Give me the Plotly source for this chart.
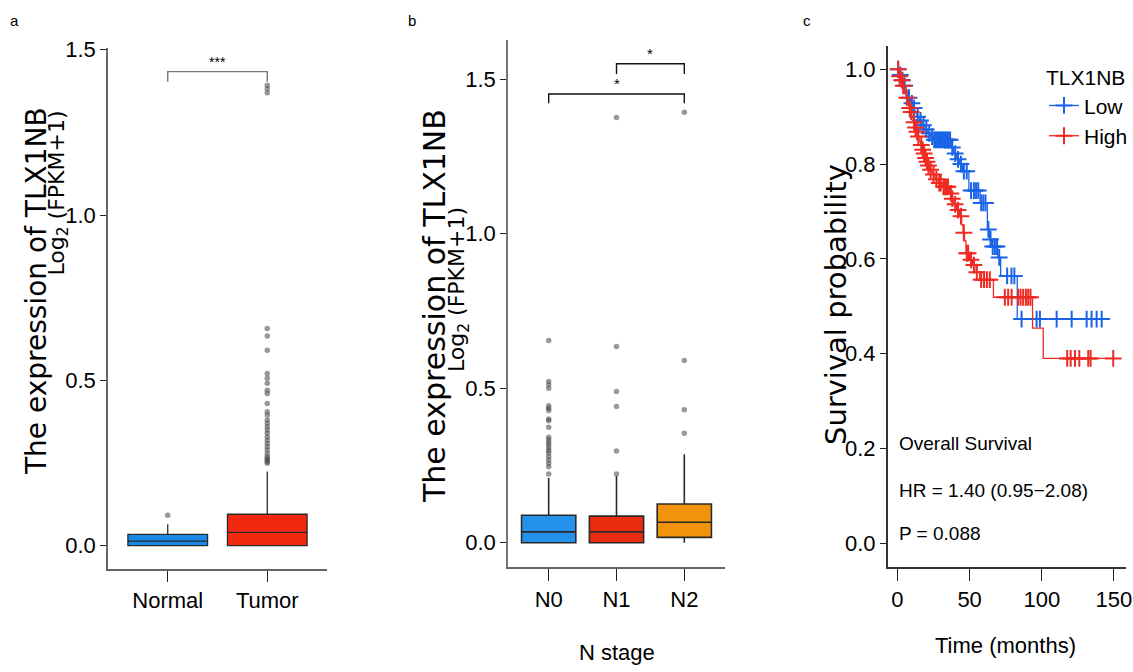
import plotly.graph_objects as go
import numpy as np

W, H = 1133, 672
def fx(p):
    return p / W
def fy(p):
    return 1 - p / H

SANS = "Liberation Sans"
WIDE = "DejaVu Sans"

# ---------------- Panel a data ----------------
a_groups = ["Normal", "Tumor"]
a_q1 = [0.0, 0.0]
a_median = [0.014, 0.040]
a_q3 = [0.034, 0.095]
a_lower = [0.0, 0.0]
a_upper = [0.065, 0.224]
a_colors = ["#1a88e6", "#f2290e"]
a_outliers = {
    "Normal": [0.092],
    "Tumor": [1.392, 1.382, 1.370, 0.657, 0.634, 0.591, 0.521, 0.506, 0.491,
              0.470, 0.460, 0.430, 0.405, 0.395, 0.380, 0.370, 0.360, 0.350,
              0.340, 0.329, 0.319, 0.309, 0.299, 0.289, 0.279, 0.269, 0.264,
              0.259, 0.254, 0.249],
}
a_yticks = [0.0, 0.5, 1.0, 1.5]
a_yticktext = ["0.0", "0.5", "1.0", "1.5"]
a_brackets = [("Normal", "Tumor", 1.4335, 1.403, "***")]

# ---------------- Panel b data ----------------
b_groups = ["N0", "N1", "N2"]
b_q1 = [0.0, 0.0, 0.017]
b_median = [0.035, 0.035, 0.066]
b_q3 = [0.089, 0.086, 0.125]
b_lower = [0.0, 0.0, 0.0]
b_upper = [0.209, 0.216, 0.286]
b_colors = ["#2492eb", "#eb2b0f", "#f1930c"]
b_outliers = {
    "N0": [0.654, 0.522, 0.511, 0.500, 0.443, 0.435, 0.428, 0.400, 0.395, 0.374,
           0.341, 0.333, 0.324, 0.316, 0.307, 0.298, 0.290, 0.279, 0.268, 0.257,
           0.246, 0.2225],
    "N1": [1.376, 0.635, 0.489, 0.441, 0.297, 0.2225],
    "N2": [1.393, 0.590, 0.430, 0.354],
}
b_yticks = [0.0, 0.5, 1.0, 1.5]
b_yticktext = ["0.0", "0.5", "1.0", "1.5"]
b_brackets = [("N0", "N2", 1.452, 1.422, "*"), ("N1", "N2", 1.550, 1.517, "*")]

# ---------------- Panel c data (Kaplan-Meier) ----------------
low_times = [0, 1.5, 3, 4.5, 6, 7.5, 9, 10.5, 12, 13.5, 15, 17, 19, 21, 23, 24.7,
             37.5, 39, 41, 43, 45, 49.5, 57.3, 62.3, 63.8, 65, 69.5, 71.5, 83, 143.5]
low_surv = [1.0, 0.988, 0.977, 0.965, 0.950, 0.940, 0.928, 0.918, 0.908, 0.900,
            0.892, 0.882, 0.873, 0.865, 0.858, 0.851, 0.835, 0.822, 0.810, 0.800,
            0.785, 0.744, 0.718, 0.662, 0.641, 0.626, 0.603, 0.564, 0.473, 0.473]
low_censor = [0.5, 2, 3.5, 5, 8, 10, 11.5, 14, 16, 18, 20, 22, 24, 25.5, 26.5, 27.5,
              28.5, 29.5, 30.5, 31.5, 32.5, 33.5, 34.5, 35.5, 36.5, 38, 40, 42, 44,
              46, 48, 51, 53, 54.5, 56, 58, 59.5, 61, 63, 64.5, 66, 67.5, 69, 70.5,
              76, 79, 81, 86, 96.4, 98.7, 110.3, 120.7, 131.1, 134.5, 138, 141.5]

high_times = [0, 1, 2, 3.5, 5, 6, 7, 8, 9, 10, 11, 12, 13, 14, 15, 16, 17, 18, 19,
              20, 21, 22, 24, 26, 28, 31, 36, 37.5, 39, 41, 43, 44.5, 45.5, 46.5,
              47.5, 50, 52, 54.5, 57, 66.5, 93.6, 101, 151]
high_surv = [1.0, 0.985, 0.977, 0.965, 0.953, 0.940, 0.930, 0.918, 0.910, 0.898,
             0.888, 0.877, 0.868, 0.858, 0.848, 0.840, 0.830, 0.822, 0.813, 0.805,
             0.797, 0.788, 0.778, 0.768, 0.760, 0.752, 0.738, 0.727, 0.715, 0.703,
             0.690, 0.672, 0.655, 0.638, 0.612, 0.598, 0.587, 0.572, 0.556, 0.519,
             0.454, 0.390, 0.390]
high_censor = [0.5, 1.5, 3, 4, 6.5, 8.5, 9.5, 11.5, 12.5, 13.5, 14.5, 16.5, 17.5,
               18.5, 19.5, 20.5, 21.5, 23, 25, 27, 29, 30, 32, 33, 34, 35, 37, 38,
               40, 42, 44, 46, 48, 49, 51, 53, 55, 58, 60, 62, 64, 74.4, 76.7, 79.1,
               83.6, 85.3, 87.1, 89, 90.6, 92.2, 117.6, 120, 123, 126, 132.2, 133.8,
               149.5]
km_names = ["Low", "High"]
km_colors = ["#1b63e6", "#ee2a22"]
c_xticks = [0, 50, 100, 150]
c_yticks = [0.0, 0.2, 0.4, 0.6, 0.8, 1.0]
c_yticktext = ["0.0", "0.2", "0.4", "0.6", "0.8", "1.0"]
c_texts = ["Overall Survival", "HR = 1.40 (0.95\u22122.08)", "P = 0.088"]


def step_value(times, surv, t):
    idx = np.searchsorted(np.array(times), t, side="right") - 1
    return surv[max(idx, 0)]


fig = go.Figure()

OUT_COLOR = "rgba(70,70,70,0.55)"
BOX_LINE = "#2a2a2a"

# ----- Panel a boxes -----
for i, g in enumerate(a_groups):
    fig.add_trace(go.Box(
        x=[g], q1=[a_q1[i]], median=[a_median[i]], q3=[a_q3[i]],
        lowerfence=[a_lower[i]], upperfence=[a_upper[i]],
        fillcolor=a_colors[i], line=dict(color=BOX_LINE, width=1.3),
        whiskerwidth=0, width=0.8, boxpoints=False, showlegend=False,
        xaxis="x", yaxis="y", hoverinfo="skip"))
    fig.add_trace(go.Scatter(
        x=[g] * len(a_outliers[g]), y=a_outliers[g], mode="markers",
        marker=dict(color=OUT_COLOR, size=5.5), showlegend=False,
        xaxis="x", yaxis="y", hoverinfo="skip"))

# ----- Panel b boxes -----
for i, g in enumerate(b_groups):
    fig.add_trace(go.Box(
        x=[g], q1=[b_q1[i]], median=[b_median[i]], q3=[b_q3[i]],
        lowerfence=[b_lower[i]], upperfence=[b_upper[i]],
        fillcolor=b_colors[i], line=dict(color=BOX_LINE, width=1.6),
        whiskerwidth=0, width=0.8, boxpoints=False, showlegend=False,
        xaxis="x2", yaxis="y2", hoverinfo="skip"))
    fig.add_trace(go.Scatter(
        x=[g] * len(b_outliers[g]), y=b_outliers[g], mode="markers",
        marker=dict(color=OUT_COLOR, size=5.5), showlegend=False,
        xaxis="x2", yaxis="y2", hoverinfo="skip"))

annotations = []

# ----- significance brackets -----
def add_brackets(brackets, groups, xa, ya, color, fsize):
    for g1, g2, top, leg, label in brackets:
        fig.add_trace(go.Scatter(
            x=[g1, g1, g2, g2], y=[leg, top, top, leg], mode="lines",
            line=dict(color=color, width=1.4), showlegend=False,
            xaxis=xa, yaxis=ya, hoverinfo="skip"))
        mid = (groups.index(g1) + groups.index(g2)) / 2
        annotations.append(dict(
            x=mid, y=top, xref=xa, yref=ya, text=label, showarrow=False,
            xanchor="center", yanchor="bottom",
            font=dict(family=SANS, size=fsize, color="black")))

add_brackets(a_brackets, a_groups, "x", "y", "#777777", 14)
add_brackets(b_brackets, b_groups, "x2", "y2", "#111111", 15)

# ----- Panel c KM curves -----
km_sets = [(low_times, low_surv, low_censor), (high_times, high_surv, high_censor)]
for k, (tt, ss, cc) in enumerate(km_sets):
    fig.add_trace(go.Scatter(
        x=tt, y=ss, mode="lines", line=dict(color=km_colors[k], width=1.3, shape="hv"),
        showlegend=False, xaxis="x3", yaxis="y3", hoverinfo="skip"))
    cy = [step_value(tt, ss, t) for t in cc]
    fig.add_trace(go.Scatter(
        x=cc, y=cy, mode="markers",
        marker=dict(symbol="cross-thin", size=12, color=km_colors[k],
                    line=dict(color=km_colors[k], width=2)),
        showlegend=False, xaxis="x3", yaxis="y3", hoverinfo="skip"))
for k, name in enumerate(km_names):
    fig.add_trace(go.Scatter(
        x=[None], y=[None], mode="lines+markers", name=name,
        line=dict(color=km_colors[k], width=1.3),
        marker=dict(symbol="cross-thin", size=12, color=km_colors[k],
                    line=dict(color=km_colors[k], width=2)),
        xaxis="x3", yaxis="y3"))

# ----- axes -----
def axis(domain, line_color, ticklen, **kw):
    d = dict(domain=domain, showgrid=False, zeroline=False, showline=True,
             automargin=False, linecolor=line_color, linewidth=1.5,
             ticks="outside", ticklen=ticklen, tickcolor="#222222", tickwidth=1.2,
             tickfont=dict(family=SANS, size=22, color="black"))
    d.update(kw)
    return d

fig.update_layout(
    template="none",
    width=W, height=H, margin=dict(l=0, r=0, t=0, b=0, autoexpand=False),
    paper_bgcolor="white", plot_bgcolor="white",
    font=dict(family=SANS, color="black"),
    xaxis=axis([fx(108), fx(327)], "#666666", 11, anchor="y", type="category",
               range=[-0.6, 1.6], categoryorder="array", categoryarray=a_groups),
    yaxis=axis([fy(569), fy(48)], "#666666", 6, anchor="x",
               range=[-0.0705, 1.505], tickvals=a_yticks, ticktext=a_yticktext),
    xaxis2=axis([fx(508), fx(725)], "#666666", 12, anchor="y2", type="category",
                range=[-0.6, 2.6], categoryorder="array", categoryarray=b_groups),
    yaxis2=axis([fy(567.3), fy(40)], "#777777", 6, anchor="x2",
                range=[-0.0797, 1.627], tickvals=b_yticks, ticktext=b_yticktext),
    xaxis3=axis([fx(887.7), fx(1125.5)], "#333333", 12, anchor="y3",
                range=[-6.75, 158], tickvals=c_xticks),
    yaxis3=axis([fy(567.3), fy(46)], "#333333", 6, anchor="x3",
                range=[-0.0506, 1.049], tickvals=c_yticks, ticktext=c_yticktext),
    legend=dict(x=fx(1044), y=fy(58), xanchor="left", yanchor="top",
                bgcolor="rgba(0,0,0,0)", itemwidth=30, tracegroupgap=0,
                font=dict(family=SANS, size=21, color="black"),
                title=dict(text="TLX1NB", font=dict(family=SANS, size=21, color="black"))),
)

# ----- text annotations -----
def paper_text(x, y, text, size, family, angle=0, xanchor="center", yanchor="middle"):
    annotations.append(dict(
        x=fx(x), y=fy(y), xref="paper", yref="paper", text=text, showarrow=False,
        textangle=angle, xanchor=xanchor, yanchor=yanchor,
        font=dict(family=family, size=size, color="black")))

# panel labels
paper_text(14, 20, "a", 15, SANS)
paper_text(412, 20, "b", 15, SANS)
paper_text(807, 20, "c", 15, SANS)

# y titles
paper_text(36, 105, "The expression of TLX1NB", 28, WIDE, -90, "center", "top")
paper_text(58, 109, "Log<sub>2</sub> (FPKM+1)", 22, WIDE, -90, "center", "top")
paper_text(435, 306, "The expression of TLX1NB", 30, WIDE, -90, "center", "middle")
paper_text(458, 290, "Log<sub>2</sub> (FPKM+1)", 22, WIDE, -90, "center", "middle")
paper_text(836, 305, "Survival probability", 29, WIDE, -90, "center", "middle")

# x titles
paper_text(617, 652, "N stage", 22, SANS)
paper_text(1005, 645, "Time (months)", 22, SANS)

# KM text
for txt, yy in zip(c_texts, [443, 490, 533]):
    paper_text(897, yy, txt, 19, SANS, 0, "left", "middle")

fig.update_layout(annotations=annotations)

fig.write_html("out.html",
               config={"displayModeBar": False},
               post_script="document.body.style.margin='0px';"
                           "document.body.style.padding='0px';")
